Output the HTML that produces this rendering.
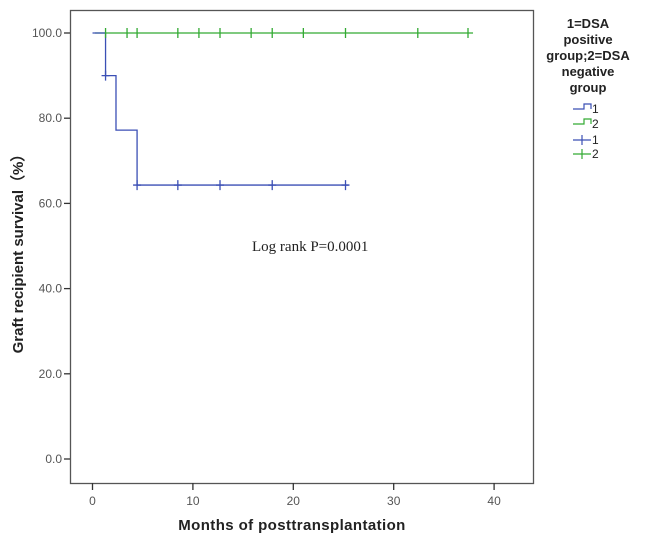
<!DOCTYPE html>
<html><head><meta charset="utf-8"><style>
body{margin:0;background:#fff;width:646px;height:544px;overflow:hidden}
svg{display:block;font-family:"Liberation Sans",sans-serif}
</style></head><body>
<svg width="646" height="544">
<rect x="70.5" y="10.5" width="463" height="473" fill="#fff" stroke="#555" stroke-width="1.3"/>
<g id="axes"></g>
<g id="series"></g>
<text x="252" y="251" font-family="Liberation Serif,serif" font-size="15" fill="#222">Log rank  P=0.0001</text>
<text x="292" y="530" text-anchor="middle" font-size="15" font-weight="bold" fill="#222" letter-spacing="0.4">Months of posttransplantation</text>
<text transform="translate(23,250) rotate(-90)" text-anchor="middle" font-size="15" font-weight="bold" fill="#222">Graft recipient survival（%）</text>
<g font-size="13" fill="#222" text-anchor="middle" font-weight="bold">
<text x="588" y="28">1=DSA</text><text x="588" y="44">positive</text><text x="588" y="60">group;2=DSA</text><text x="588" y="76">negative</text><text x="588" y="92">group</text>
</g>
<g font-size="12" fill="#222">
<path d="M573 109H584V104H591V109" fill="none" stroke="#3b4fb5" stroke-width="1.2"/><text x="592" y="113">1</text>
<path d="M573 124H584V119H591V124" fill="none" stroke="#33aa33" stroke-width="1.2"/><text x="592" y="128">2</text>
<path d="M573 140H591M582 135V145" stroke="#3b4fb5" stroke-width="1.2"/><text x="592" y="144">1</text>
<path d="M573 154H591M582 149V159" stroke="#33aa33" stroke-width="1.2"/><text x="592" y="158">2</text>
</g>
</svg>
<script>
const xTicks=[0,10,20,30,40];
const yTicks=[0,20,40,60,80,100];
const blueTimes=[0,1.3,2.34,4.44,25.5];
const blueSurv=[100,90,77.2,64.3,64.3];
const blueCensor=[1.3,4.44,8.5,12.7,17.9,25.2];
const greenStart=0.25, greenEnd=37.9;
const greenSurv=100;
const greenCensor=[1.3,3.44,4.44,8.5,10.6,12.7,15.8,17.9,21,25.2,32.4,37.4];
const NS='http://www.w3.org/2000/svg';
const X=v=>92.5+v*10.04, Y=v=>459-v*4.26;
const ax=document.getElementById('axes'), se=document.getElementById('series');
function mk(p,tag,at){const e=document.createElementNS(NS,tag);for(const k in at)e.setAttribute(k,at[k]);p.appendChild(e);return e;}
xTicks.forEach(t=>{
 const l=mk(ax,'line',{x1:X(t),x2:X(t),y1:483,y2:490,stroke:'#333','stroke-width':1.3});
 
 
 const tx=mk(ax,'text',{x:X(t),y:505,'text-anchor':'middle','font-size':12,fill:'#555'});tx.textContent=t;
 
 
});
yTicks.forEach(t=>{
 const l=mk(ax,'line',{x1:64,x2:70,y1:Y(t),y2:Y(t),stroke:'#333','stroke-width':1.3});
 
 
 const tx=mk(ax,'text',{x:62,y:Y(t)+4,'text-anchor':'end','font-size':12,fill:'#555'});tx.textContent=t.toFixed(1);
 
 
});
let d='M'+X(blueTimes[0])+' '+Y(blueSurv[0]);
for(let i=1;i<blueTimes.length;i++){d+=' H'+X(blueTimes[i])+' V'+Y(blueSurv[i]);}
const g=mk(se,'path',{d:'M'+X(greenStart)+' '+Y(greenSurv)+' H'+X(greenEnd),stroke:'#33aa33','stroke-width':1.3,fill:'none'});


const b=mk(se,'path',{d:d,stroke:'#3b4fb5','stroke-width':1.3,fill:'none'});


function surv(t){let s=blueSurv[0];for(let i=0;i<blueTimes.length;i++)if(blueTimes[i]<=t)s=blueSurv[i];return s;}
greenCensor.forEach(t=>{const c=mk(se,'path',{d:`M${X(t)} ${Y(greenSurv)-5}V${Y(greenSurv)+5}`,stroke:'#33aa33','stroke-width':1.3});
 
 });
blueCensor.forEach(t=>{const y=Y(surv(t));const c=mk(se,'path',{d:`M${X(t)-4} ${y}H${X(t)+4}M${X(t)} ${y-5}V${y+5}`,stroke:'#3b4fb5','stroke-width':1.3});
 
 });
</script>
</body></html>
